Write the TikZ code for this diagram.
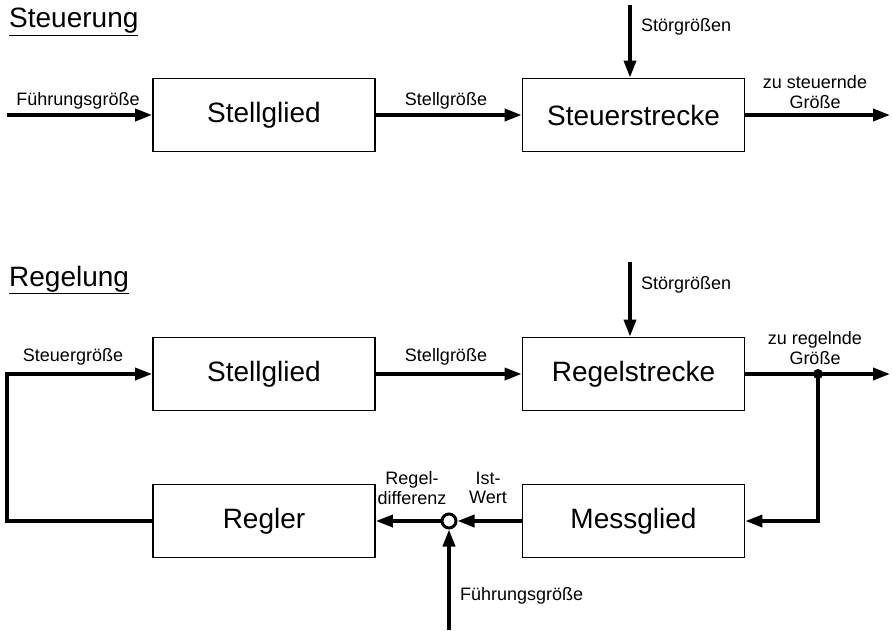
\documentclass[tikz,border=0pt]{standalone}
\usepackage{fontspec}
\setmainfont{Liberation Sans}
\usetikzlibrary{arrows.meta}
\begin{document}
\begin{tikzpicture}[x=1pt,y=-1pt,
  blockbox/.style={draw,line width=1.8pt,minimum width=222pt,minimum height=73pt,inner sep=0pt,font=\fontsize{28}{30}\selectfont},
  sig/.style={line width=3.5pt,-{Triangle[length=17pt,width=12pt]}},
  lbl/.style={inner sep=0pt,align=center,font=\fontsize{18}{19.5}\selectfont},
  ttl/.style={anchor=west,inner sep=0pt,font=\fontsize{28}{30}\selectfont}]
\useasboundingbox (0,0) rectangle (892,630);
% Steuerung
\node[ttl] (t1) at (9,22) {\underline{Steuerung}};
\node[blockbox] (sg1) at (264,115) {Stellglied};
\node[blockbox] (ss) at (633.5,115) {Steuerstrecke};
\coordinate (in1) at (7,115);
\coordinate (out1) at (890,115);
\coordinate (sz1) at (630,5);
\draw[sig] (in1) -- (sg1.west);
\draw[sig] (sg1.east) -- (ss.west);
\draw[sig] (ss.east) -- (out1);
\draw[sig] (sz1) -- (ss.north -| sz1);
\node[lbl] (l1) at (78,101) {Führungsgröße};
\node[lbl] (l2) at (446,101) {Stellgröße};
\node[lbl,anchor=west] (l3) at (641,27) {Störgrößen};
\node[lbl] (l4) at (815,92) {zu steuernde\\Größe};
% Regelung
\node[ttl] (t2) at (9,280) {\underline{Regelung}};
\node[blockbox] (sg2) at (264,374) {Stellglied};
\node[blockbox] (rs) at (633.5,374) {Regelstrecke};
\node[blockbox] (rg) at (264,521) {Regler};
\node[blockbox] (mg) at (633.5,521) {Messglied};
\node[draw,circle,line width=3pt,minimum size=14pt,inner sep=0pt] (sum) at (449,521) {};
\coordinate (sz2) at (630,262);
\coordinate (out2) at (890,374);
\coordinate (dot) at (818,374);
\coordinate (fg) at (449,630);
\coordinate (lc) at (7,374);
\draw[sig] (sz2) -- (rs.north -| sz2);
\draw[sig] (sg2.east) -- (rs.west);
\draw[sig] (rs.east) -- (out2);
\draw[sig] (dot) |- (mg.east);
\draw[sig] (mg.west) -- (sum.east);
\draw[sig] (sum.west) -- (rg.east);
\draw[sig] (fg) -- (sum.south);
\draw[sig] (rg.west) -| (lc) -- (sg2.west);
\fill (dot) circle (5pt);
\node[lbl] (l5) at (73,357) {Steuergröße};
\node[lbl] (l6) at (446,357) {Stellgröße};
\node[lbl,anchor=west] (l7) at (641,285) {Störgrößen};
\node[lbl] (l8) at (815,348) {zu regelnde\\Größe};
\node[lbl] (l9) at (412,488) {Regel-\\differenz};
\node[lbl] (l10) at (488,488) {Ist-\\Wert};
\node[lbl,anchor=west] (l11) at (460,596) {Führungsgröße};
\end{tikzpicture}
\end{document}
